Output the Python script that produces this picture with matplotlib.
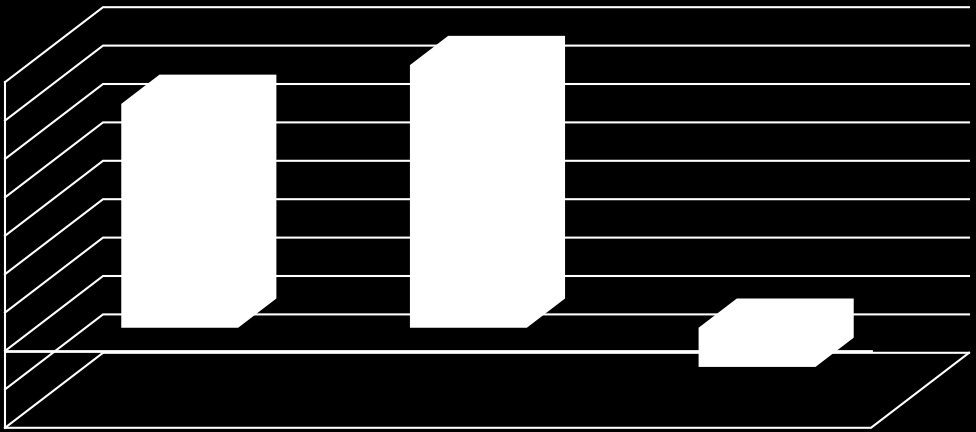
import matplotlib
matplotlib.use("Agg")
import matplotlib.pyplot as plt

categories = ["A", "B", "C"]
values = [5.83, 6.84, -1.02]
axis_ticks = [-2, -1, 0, 1, 2, 3, 4, 5, 6, 7]

# oblique 3D projection of the chart onto the canvas (pixels)
X0, Y0 = 5.0, 351.0
PLOT_W = 866.0
UNIT = 38.4
DX, DY = 98.0, 75.0
BAR_W = 0.405
D_FRONT, D_BACK = 0.31, 0.70


def proj(u, v, d):
    """u: category position 0..n, v: value, d: depth 0..1"""
    return (X0 + u * PLOT_W / len(categories) + DX * d, Y0 - UNIT * v - DY * d)


fig = plt.figure(figsize=(9.76, 4.32), dpi=100, facecolor="black")
ax = fig.add_axes([0, 0, 1, 1], facecolor="black")
ax.set_xlim(0, 976)
ax.set_ylim(432, 0)
ax.axis("off")

n = len(categories)
LW = 1.5


def line(points, lw=LW):
    ax.plot([p[0] for p in points], [p[1] for p in points], color="white",
            lw=lw, solid_capstyle="projecting", solid_joinstyle="miter", zorder=2)


# walls and gridlines
for t in axis_ticks:
    line([proj(0, t, 0), proj(0, t, 1), proj(n, t, 1)])
# left wall edge
line([proj(0, axis_ticks[0], 0), proj(0, axis_ticks[-1], 0)])
# floor
fl = axis_ticks[0]
line([proj(0, fl, 0), proj(n, fl, 0), proj(n, fl, 1)])
# zero line
line([proj(0, 0, 0), proj(n, 0, 0)], lw=2.0)

# bars
for i, v in enumerate(values):
    l, r = i + 0.5 - BAR_W / 2, i + 0.5 + BAR_W / 2
    lo, hi = min(v, 0), max(v, 0)
    outline = [proj(l, lo, D_FRONT), proj(r, lo, D_FRONT), proj(r, lo, D_BACK),
               proj(r, hi, D_BACK), proj(l, hi, D_BACK), proj(l, hi, D_FRONT)]
    ax.fill([p[0] for p in outline], [p[1] for p in outline], color="white",
            lw=0, zorder=3)

fig.savefig("out.png", dpi=100, facecolor="black")
